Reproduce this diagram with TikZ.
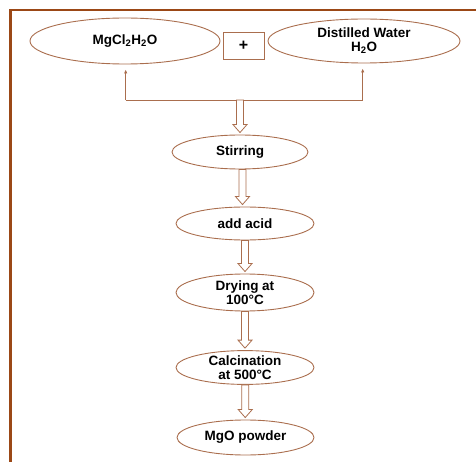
\documentclass[tikz,border=0pt]{standalone}
\usepackage{fontspec}
\setmainfont{Liberation Sans}
\usetikzlibrary{shapes.geometric,calc,arrows.meta}
\definecolor{framebrown}{RGB}{155,72,22}
\definecolor{linebrown}{RGB}{170,110,78}
\begin{document}
\begin{tikzpicture}[x=1pt,y=1pt,
  stepnode/.style={ellipse,draw=linebrown,line width=0.9pt,inner sep=0pt,align=center,
    font=\bfseries\fontsize{13.5}{14}\selectfont},
  plusbox/.style={rectangle,draw=linebrown,line width=0.9pt,minimum width=41,minimum height=27,
    font=\bfseries\fontsize{16}{16}\selectfont},
  feed/.style={draw=linebrown,line width=0.8pt,-{Latex[length=4pt,width=3.5pt]},shorten >=5pt},
  hollowarrow/.style={draw=linebrown,fill=white,line width=0.8pt,
    to path={let \p1=(\tikztostart), \p2=(\tikztotarget), \n1={0.5*\x1+0.5*\x2} in
      (\n1-3.5pt,\y1) -- (\n1-3.5pt,\y2+10pt) -- (\n1-7pt,\y2+10pt) -- (\n1,\y2+2pt)
      -- (\n1+7pt,\y2+10pt) -- (\n1+3.5pt,\y2+10pt) -- (\n1+3.5pt,\y1) -- cycle}}]
\useasboundingbox (0,0) rectangle (476,461);
\draw[framebrown,line width=2.6pt] (10.5,-2) -- (10.5,451) -- (478,451);

\node[stepnode,minimum width=190,minimum height=46] (mgcl) at (125,420) {MgCl\textsubscript{2}H\textsubscript{2}O};
\node[plusbox] (plus) at (243.5,415.5) {+};
\node[stepnode,minimum width=192,minimum height=44] (water) at (364,420) {Distilled Water\\H\textsubscript{2}O};

\node[stepnode,minimum width=136,minimum height=34] (stir) at (240,309) {Stirring};
\node[stepnode,minimum width=138,minimum height=33] (acid) at (245,237.5) {add acid};
\node[stepnode,minimum width=138,minimum height=37] (dry) at (245,168.5) {Drying at\\100°C};
\node[stepnode,minimum width=138,minimum height=32] (calc) at (245,93.5) {Calcination\\at 500°C};
\node[stepnode,minimum width=137,minimum height=35] (mgo) at (245.5,23.5) {MgO powder};

\coordinate (split) at (240,361);
\coordinate (leftend) at (125.7,361);
\coordinate (rightend) at (362.7,361);
\draw[linebrown,line width=0.8pt] (leftend) -- (rightend);
\draw[feed] (leftend) -- (leftend |- mgcl.south);
\draw[feed] (rightend) -- (rightend |- water.south);

\foreach \a/\b in {split/stir.north,stir.south/acid.north,acid.south/dry.north,dry.south/calc.north,calc.south/mgo.north}
  \draw[hollowarrow] (\a) to (\b);
\end{tikzpicture}
\end{document}
